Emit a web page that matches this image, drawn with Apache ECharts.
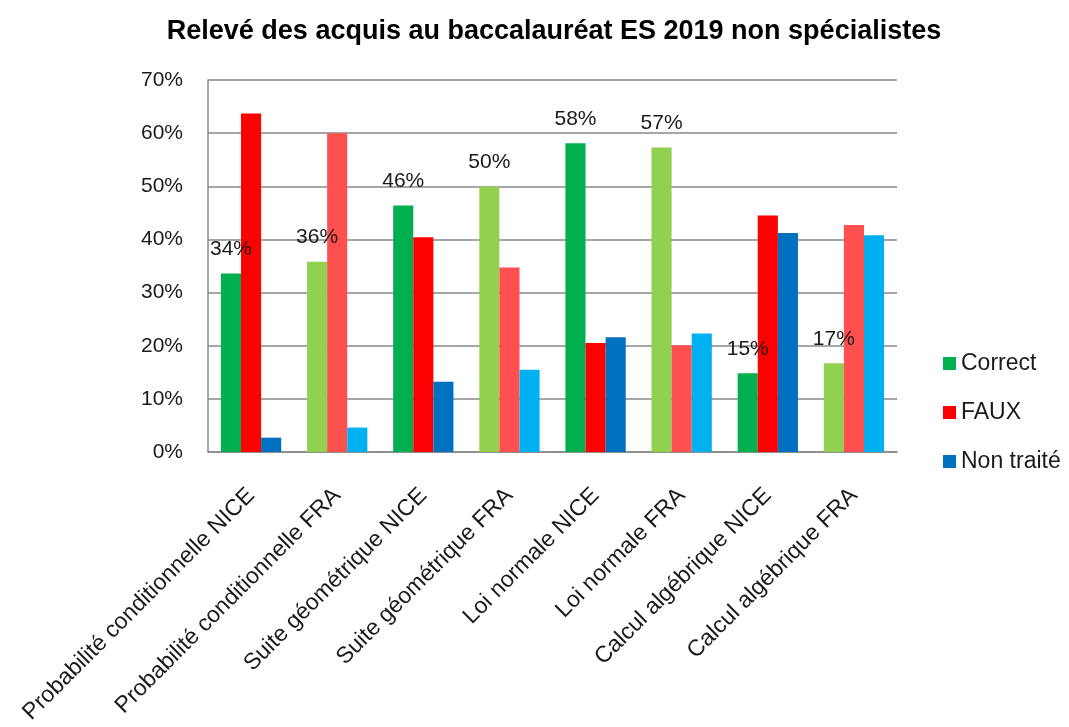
<!DOCTYPE html>
<html><head><meta charset="utf-8">
<script src="https://cdn.jsdelivr.net/npm/echarts@6/dist/echarts.min.js"></script>
<style>html,body{margin:0;padding:0;background:#fff}#c{width:1069px;height:727px}</style>
</head><body><div id="c"></div>
<script>
const categories = ["Probabilité conditionnelle NICE","Probabilité conditionnelle FRA","Suite géométrique NICE","Suite géométrique FRA","Loi normale NICE","Loi normale FRA","Calcul algébrique NICE","Calcul algébrique FRA"];
const correct = [33.6, 35.8, 46.4, 49.9, 58.1, 57.3, 14.8, 16.7];
const faux = [63.7, 60.0, 40.4, 34.7, 20.5, 20.1, 44.5, 42.7];
const nonTraite = [2.7, 4.6, 13.2, 15.5, 21.6, 22.3, 41.2, 40.8];
const yTicks = [0,10,20,30,40,50,60,70];

const colNice = {c:'#00B050', f:'#FF0000', n:'#0070C0'};
const colFra = {c:'#92D050', f:'#FF5050', n:'#00B0F0'};
function mk(arr, key){
  return arr.map((v,i)=>({value:v, itemStyle:{color:(i%2? colFra:colNice)[key]}}));
}
const font = 'Liberation Sans, Arial, sans-serif';
const txt = '#1a1a1a';
const chart = echarts.init(document.getElementById('c'));
chart.setOption({
  animation:false,
  title:{text:'Relevé des acquis au baccalauréat ES 2019 non spécialistes', left:549, textAlign:'center', top:13,
    textStyle:{fontFamily:font, fontWeight:'bold', fontSize:27, color:'#000'}},
  legend:{orient:'vertical', left:938, top:347, itemGap:26, itemWidth:13, itemHeight:13, icon:'rect',
    textStyle:{fontFamily:font, fontSize:23, color:txt},
    data:[{name:'Correct',itemStyle:{color:colNice.c}},{name:'FAUX',itemStyle:{color:colNice.f}},{name:'Non traité',itemStyle:{color:colNice.n}}]},
  grid:{left:208, right:172, top:80, bottom:275},
  xAxis:{type:'category', data:categories,
    axisLine:{lineStyle:{color:'#888', width:1.5}}, axisTick:{show:false},
    axisLabel:{rotate:45, interval:0, fontFamily:font, fontSize:23, color:txt, margin:40}},
  yAxis:{type:'value', min:yTicks[0], max:yTicks[yTicks.length-1], interval:10,
    axisLine:{show:true, lineStyle:{color:'#888', width:1.5}},
    splitLine:{lineStyle:{color:'#888', width:1.5}},
    axisLabel:{fontFamily:font, fontSize:21, color:txt, margin:25, formatter:v=>v+'%'}},
  series:[
    {name:'Correct', type:'bar', data:mk(correct,'c'), barGap:'0%', barCategoryGap:'30%',
      label:{show:true, position:'top', distance:14, fontFamily:font, fontSize:21, color:txt, formatter:p=>Math.round(p.value)+'%'}},
    {name:'FAUX', type:'bar', data:mk(faux,'f'), barGap:'0%', barCategoryGap:'30%'},
    {name:'Non traité', type:'bar', data:mk(nonTraite,'n'), barGap:'0%', barCategoryGap:'30%'}
  ]
});
</script></body></html>
